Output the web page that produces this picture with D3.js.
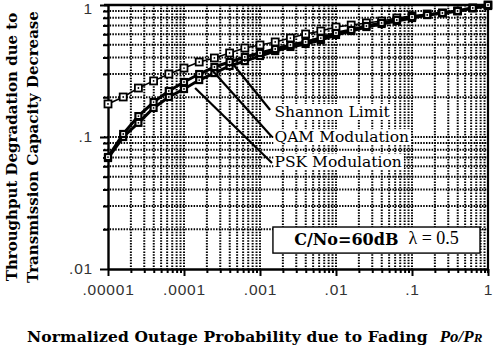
<!DOCTYPE html>
<html><head><meta charset="utf-8">
<script src="https://cdn.jsdelivr.net/npm/d3@7"></script>
<style>body{margin:0;background:#fff}svg{display:block}</style>
</head><body>
<svg id="c" width="502" height="351"></svg>
<script>
// ---- data ----
const xValues = [1e-5,1.585e-5,2.512e-5,3.981e-5,6.31e-5,1e-4,1.585e-4,2.512e-4,3.981e-4,6.31e-4,1e-3,1.585e-3,2.512e-3,3.981e-3,6.31e-3,1e-2,1.585e-2,2.512e-2,3.981e-2,6.31e-2,1e-1,0.1585,0.2512,0.3981,0.631,1];
const shannon = [0.178,0.201,0.235,0.266,0.300,0.333,0.370,0.397,0.433,0.472,0.498,0.525,0.562,0.603,0.635,0.681,0.705,0.731,0.756,0.797,0.826,0.855,0.870,0.901,0.949,1.0];
const qam = [0.0705,0.1054,0.144,0.184,0.223,0.261,0.300,0.339,0.370,0.404,0.433,0.464,0.498,0.525,0.562,0.614,0.647,0.693,0.731,0.770,0.811,0.840,0.870,0.901,0.949,1.0];
const psk = [0.0693,0.100,0.128,0.166,0.201,0.231,0.270,0.305,0.345,0.376,0.411,0.448,0.481,0.507,0.543,0.593,0.635,0.681,0.718,0.756,0.797,0.840,0.870,0.901,0.949,0.983];
const xTickValues = [1e-5,1e-4,1e-3,1e-2,1e-1,1];
const xTickLabels = [".00001",".0001",".001",".01",".1","1"];
const yTickValues = [0.01,0.1,1];
const yTickLabels = [".01",".1","1"];
const seriesNames = ["Shannon Limit","QAM Modulation","PSK Modulation"];
// annotation anchors (data space): curve point, label point
const leaderFrom = [[4.3e-4,0.364],[2.33e-4,0.322],[1.40e-4,0.235]];
const leaderTo = [[1.36e-3,0.160],[1.44e-3,0.100],[1.44e-3,0.0635]];
const labelAt = [[1.55e-3,0.152],[1.55e-3,0.098],[1.55e-3,0.0635]];
const boxX = [1.48e-3,0.785];
const boxY = [0.0208,0.0132];

// ---- layout ----
const svg = d3.select("#c");
const m = {l:108,t:5,r:14,b:82};
const W = 502-m.l-m.r, H = 351-m.t-m.b;
const x = d3.scaleLog().domain([1e-5,1]).range([m.l,m.l+W]);
const y = d3.scaleLog().domain([0.01,1]).range([m.t+H,m.t]);

const minorX = [], minorY = [];
for (let e=-5;e<0;e++) for (let d=1;d<10;d++) minorX.push(d*Math.pow(10,e));
minorX.push(1);
for (let e=-2;e<0;e++) for (let d=1;d<10;d++) minorY.push(d*Math.pow(10,e));
minorY.push(1);

// grid
const g = svg.append("g");
g.selectAll("line.vx").data(minorX.slice(1,-1)).join("line")
  .attr("x1",d=>x(d)).attr("x2",d=>x(d)).attr("y1",m.t).attr("y2",m.t+H)
  .attr("stroke","#000").attr("stroke-width",2).attr("stroke-dasharray","1.5,1.3");
g.selectAll("line.hy").data(minorY.slice(1,-1)).join("line")
  .attr("x1",m.l-4).attr("x2",m.l+W).attr("y1",d=>y(d)).attr("y2",d=>y(d))
  .attr("stroke","#000").attr("stroke-width",2).attr("stroke-dasharray","1.5,1.3");

// axes
const isMajorX = d=>xTickValues.some(v=>Math.abs(v-d)/v<1e-6);
const isMajorY = d=>yTickValues.some(v=>Math.abs(v-d)/v<1e-6);
const xa = svg.append("g").attr("transform",`translate(0,${m.t+H})`)
  .call(d3.axisBottom(x).tickValues(minorX).tickSizeOuter(0)
    .tickFormat(d=>{const i=xTickValues.findIndex(v=>Math.abs(v-d)/v<1e-6);return i>=0?xTickLabels[i]:"";}));
xa.selectAll(".tick line").attr("y2",d=>isMajorX(d)?7:4).attr("stroke-width",2);
xa.select(".domain").attr("stroke-width",2.4);
xa.selectAll(".tick text").attr("y",15).attr("font-family","Liberation Sans, Arial, sans-serif")
  .attr("font-size",15.5).attr("fill","#333").attr("letter-spacing","0.8px");

const ya = svg.append("g").attr("transform",`translate(${m.l},0)`)
  .call(d3.axisLeft(y).tickValues(minorY).tickSizeOuter(0)
    .tickFormat(d=>{const i=yTickValues.findIndex(v=>Math.abs(v-d)/v<1e-6);return i>=0?yTickLabels[i]:"";}));
ya.selectAll(".tick line").attr("x2",d=>isMajorY(d)?-8:-5).attr("stroke-width",2);
ya.select(".domain").attr("stroke-width",2.4);
ya.selectAll(".tick text").attr("x",-15).attr("font-family","Liberation Sans, Arial, sans-serif")
  .attr("font-size",15.5).attr("fill","#333").attr("letter-spacing","0.8px")
  .attr("dy",d=>d===1?"0.55em":"0.32em");

// top & right frame
svg.append("line").attr("x1",m.l-4).attr("x2",m.l+W).attr("y1",m.t).attr("y2",m.t).attr("stroke","#000").attr("stroke-width",2.4);
svg.append("line").attr("x1",m.l+W).attr("x2",m.l+W).attr("y1",m.t).attr("y2",m.t+H+4).attr("stroke","#000").attr("stroke-width",2.2);

// curves
const line = d3.line().x((d,i)=>x(xValues[i])).y(d=>y(d));
function drawSeries(vals, lw, size, sw){
  svg.append("path").datum(vals).attr("d",line).attr("fill","none").attr("stroke","#000").attr("stroke-width",lw);
  svg.append("g").selectAll("rect").data(vals).join("rect")
    .attr("x",(d,i)=>x(xValues[i])-size/2).attr("y",d=>y(d)-size/2)
    .attr("width",size).attr("height",size).attr("fill","#fff").attr("stroke","#000").attr("stroke-width",sw);
  svg.append("g").selectAll("circle").data(vals).join("circle")
    .attr("cx",(d,i)=>x(xValues[i])).attr("cy",d=>y(d)).attr("r",0.9).attr("fill","#000");
}
drawSeries(shannon,1.5,7,1.8);
drawSeries(psk,3,6,2.2);
drawSeries(qam,3,6,2.2);

// leader lines and labels
const serif = "DejaVu Serif, Liberation Serif, serif";
seriesNames.forEach((name,i)=>{
  svg.append("line").attr("x1",x(leaderFrom[i][0])).attr("y1",y(leaderFrom[i][1]))
    .attr("x2",x(leaderTo[i][0])).attr("y2",y(leaderTo[i][1])).attr("stroke","#000").attr("stroke-width",2.2);
});
seriesNames.forEach((name,i)=>{
  const lg = svg.append("g");
  const bg = lg.append("rect").attr("fill","#fff");
  const t = lg.append("text").attr("x",x(labelAt[i][0])).attr("y",y(labelAt[i][1]))
    .attr("dominant-baseline","middle").attr("font-family",serif).attr("font-size",15.5).text(name);
  const bb = t.node().getBBox();
  bg.attr("x",bb.x-1).attr("y",bb.y+1).attr("width",bb.width+3).attr("height",bb.height-2);
});

// parameter box
svg.append("rect").attr("x",x(boxX[0])).attr("y",y(boxY[0])).attr("width",x(boxX[1])-x(boxX[0])).attr("height",y(boxY[1])-y(boxY[0]))
  .attr("fill","#fff").attr("stroke","#000").attr("stroke-width",1.4);
const bt = svg.append("text").attr("x",(x(boxX[0])+x(boxX[1]))/2).attr("y",(y(boxY[0])+y(boxY[1]))/2)
  .attr("text-anchor","middle").attr("dominant-baseline","middle").attr("font-family",serif).attr("font-size",16);
bt.append("tspan").attr("font-weight","bold").text("C/No=60dB");
bt.append("tspan").attr("dx",10).attr("font-family","Liberation Serif, serif").attr("font-size",18).text("λ = 0.5");

// axis titles
svg.append("text").attr("transform","translate(17,147) rotate(-90)").attr("text-anchor","middle")
  .attr("font-family",serif).attr("font-weight","bold").attr("font-size",15).text("Throughput Degradation due to");
svg.append("text").attr("transform","translate(38,147) rotate(-90)").attr("text-anchor","middle")
  .attr("font-family",serif).attr("font-weight","bold").attr("font-size",15).text("Transmission Capacity Decrease");
const xt = svg.append("text").attr("x",27).attr("y",342).attr("font-family",serif).attr("font-size",15.5);
xt.append("tspan").attr("font-weight","bold").attr("letter-spacing","0.15px").text("Normalized Outage Probability due to Fading");
xt.append("tspan").attr("dx",12).attr("font-style","italic").attr("font-weight","bold").attr("font-size",17).attr("font-family","Liberation Serif, serif").text("Po/P");
xt.append("tspan").attr("font-style","italic").attr("font-weight","bold").attr("font-size",13).attr("font-family","Liberation Serif, serif").text("R");
</script>
</body></html>
